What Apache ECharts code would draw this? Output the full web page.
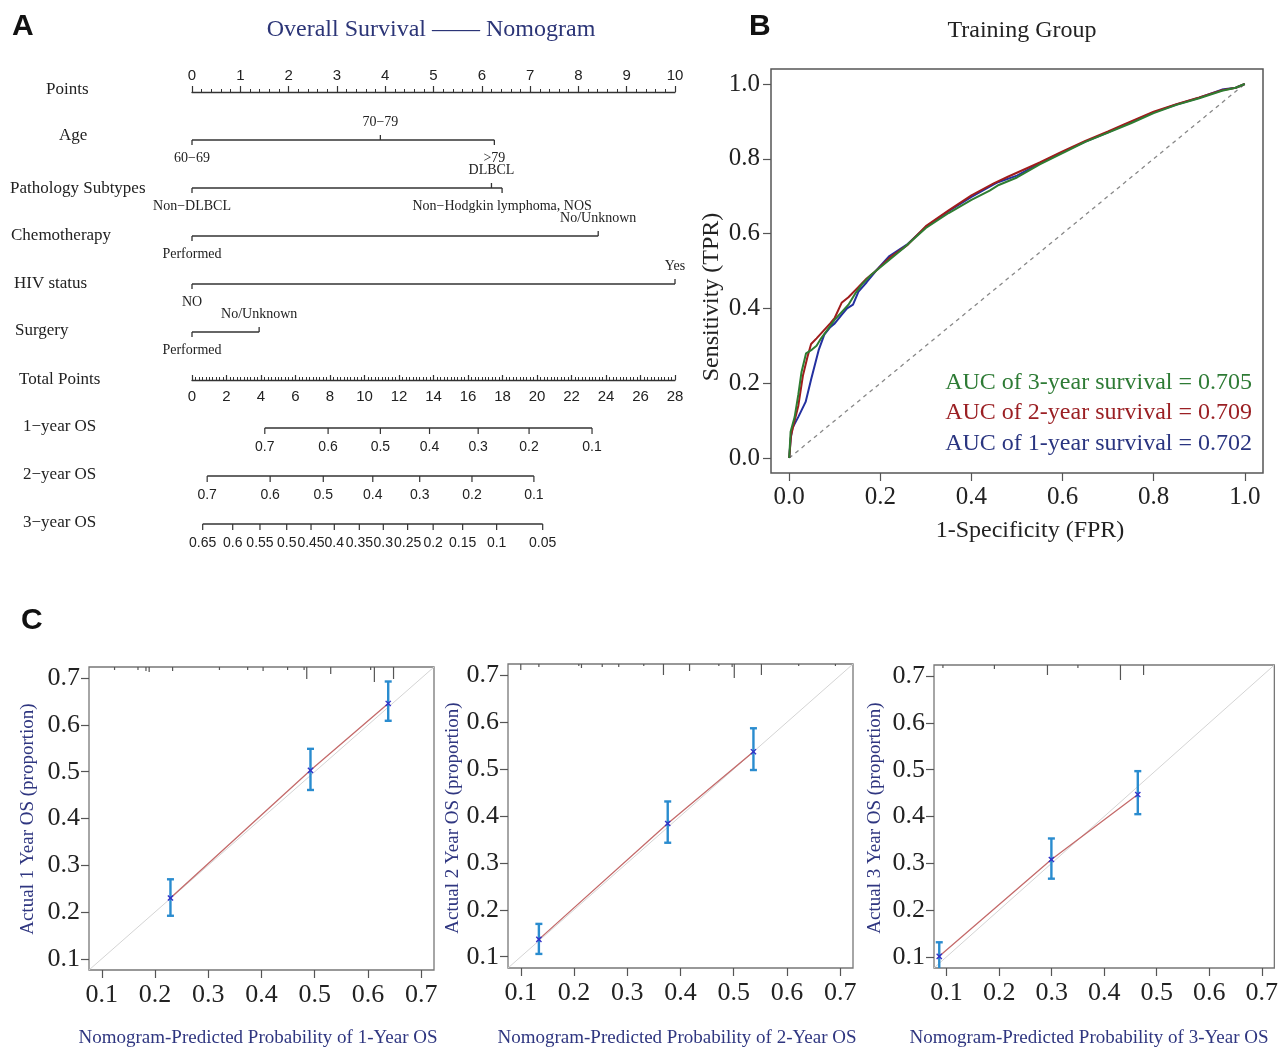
<!DOCTYPE html>
<html><head><meta charset="utf-8">
<script src="https://cdn.jsdelivr.net/npm/echarts@6/dist/echarts.min.js"></script>
<style>html,body{margin:0;padding:0;background:#fff}#c{width:1281px;height:1049px}</style>
</head><body><div id="c"></div>
<script>
// ================= DATA =================
// Nomogram rows
const nomoRows = ['Points','Age','Pathology Subtypes','Chemotherapy','HIV status','Surgery','Total Points','1−year OS','2−year OS','3−year OS'];
const ageLevels = ['60−69','70−79','>79'];
const agePoints = [0, 3.9, 6.26];
const pathLevels = ['Non−DLBCL','DLBCL','Non−Hodgkin lymphoma, NOS'];
const pathPoints = [0, 6.2, 6.42];
const chemoLevels = ['Performed','No/Unknown'];
const chemoPoints = [0, 8.41];
const hivLevels = ['NO','Yes'];
const hivPoints = [0, 10];
const surgeryLevels = ['Performed','No/Unknown'];
const surgeryPoints = [0, 1.39];
const os1Labels = ['0.7','0.6','0.5','0.4','0.3','0.2','0.1'];
const os1Total = [4.22, 7.89, 10.92, 13.77, 16.59, 19.54, 23.19];
const os2Labels = ['0.7','0.6','0.5','0.4','0.3','0.2','0.1'];
const os2Total = [0.88, 4.53, 7.61, 10.48, 13.2, 16.23, 19.82];
const os3Labels = ['0.65','0.6','0.55','0.5','0.45','0.4','0.35','0.3','0.25','0.2','0.15','0.1','0.05'];
const os3Total = [0.62, 2.36, 3.94, 5.49, 6.90, 8.25, 9.70, 11.09, 12.50, 13.98, 15.69, 17.66, 20.33];

// ROC curves [FPR, TPR]
const roc3yr = [[0,0],[0.003,0.07],[0.012,0.11],[0.02,0.17],[0.027,0.23],[0.037,0.28],[0.05,0.29],[0.06,0.30],[0.07,0.32],[0.085,0.345],[0.1,0.37],[0.115,0.39],[0.13,0.41],[0.145,0.44],[0.16,0.465],[0.18,0.49],[0.2,0.51],[0.22,0.53],[0.25,0.56],[0.3,0.615],[0.35,0.655],[0.4,0.69],[0.44,0.715],[0.46,0.73],[0.5,0.75],[0.55,0.785],[0.6,0.815],[0.65,0.845],[0.7,0.87],[0.75,0.895],[0.8,0.922],[0.85,0.944],[0.9,0.962],[0.95,0.982],[0.98,0.99],[1,1]];
const roc2yr = [[0,0],[0.004,0.06],[0.012,0.10],[0.02,0.14],[0.03,0.22],[0.04,0.27],[0.048,0.305],[0.06,0.32],[0.075,0.34],[0.09,0.36],[0.1,0.375],[0.115,0.415],[0.13,0.43],[0.15,0.455],[0.17,0.48],[0.19,0.5],[0.22,0.535],[0.26,0.57],[0.3,0.62],[0.35,0.662],[0.4,0.702],[0.45,0.735],[0.48,0.752],[0.55,0.79],[0.6,0.82],[0.65,0.848],[0.7,0.873],[0.735,0.892],[0.8,0.926],[0.85,0.946],[0.9,0.964],[0.95,0.983],[0.98,0.99],[1,1]];
const roc1yr = [[0,0],[0.003,0.05],[0.007,0.08],[0.02,0.11],[0.036,0.15],[0.048,0.21],[0.065,0.29],[0.077,0.33],[0.09,0.35],[0.1,0.36],[0.115,0.383],[0.127,0.4],[0.14,0.41],[0.152,0.445],[0.17,0.47],[0.19,0.5],[0.22,0.54],[0.26,0.572],[0.3,0.618],[0.35,0.66],[0.4,0.698],[0.45,0.732],[0.46,0.738],[0.5,0.755],[0.55,0.788],[0.6,0.818],[0.65,0.846],[0.7,0.871],[0.75,0.898],[0.8,0.924],[0.85,0.945],[0.9,0.963],[0.95,0.985],[0.98,0.99],[1,1]];
const aucLabels = ['AUC of 3-year survival = 0.705','AUC of 2-year survival = 0.709','AUC of 1-year survival = 0.702'];

// Calibration: predicted, observed, CI low, CI high, rug positions & counts
const cal1Pred = [0.229, 0.492, 0.638];
const cal1Obs  = [0.230, 0.503, 0.646];
const cal1Lo   = [0.192, 0.461, 0.609];
const cal1Hi   = [0.270, 0.549, 0.693];
const cal1RugX = [0.124,0.168,0.183,0.189,0.233,0.321,0.374,0.403,0.449,0.480,0.485,0.530,0.605,0.612,0.648];
const cal1RugN = [3,3,4,5,4,3,3,4,3,3,12,7,3,15,12];
const cal2Pred = [0.134, 0.376, 0.537];
const cal2Obs  = [0.137, 0.384, 0.537];
const cal2Lo   = [0.106, 0.343, 0.498];
const cal2Hi   = [0.170, 0.431, 0.587];
const cal2RugX = [0.100,0.134,0.209,0.214,0.253,0.284,0.331,0.368,0.417,0.472,0.497,0.501,0.552,0.622,0.691];
const cal2RugN = [6,3,2,4,3,3,2,11,7,2,3,14,11,2,2];
const cal3Pred = [0.086, 0.2995, 0.464];
const cal3Obs  = [0.101, 0.308, 0.447];
const cal3Lo   = [0.07, 0.267, 0.405];
const cal3Hi   = [0.131, 0.353, 0.497];
const cal3RugX = [0.093,0.191,0.292,0.350,0.431,0.475];
const cal3RugN = [3,4,10,3,15,10];
const calTicks = [0.1,0.2,0.3,0.4,0.5,0.6,0.7];
const rocTicks = [0,0.2,0.4,0.6,0.8,1.0];

// ================= LAYOUT / STYLE =================
const SERIF = "'Liberation Serif','Times New Roman',serif";
const SANS = "'Liberation Sans',Arial,sans-serif";
const NAVY = '#2f3680';
const CAL_MIN = 0.076, CAL_MAX = 0.724;
const catRows = [
  {row:1, levels:ageLevels, pts:agePoints, sides:['b','a','b']},
  {row:2, levels:pathLevels, pts:pathPoints, sides:['b','a','b']},
  {row:3, levels:chemoLevels, pts:chemoPoints, sides:['b','a']},
  {row:4, levels:hivLevels, pts:hivPoints, sides:['b','a']},
  {row:5, levels:surgeryLevels, pts:surgeryPoints, sides:['b','a']}
];
const osRows = [
  {row:7, labels:os1Labels, tot:os1Total},
  {row:8, labels:os2Labels, tot:os2Total},
  {row:9, labels:os3Labels, tot:os3Total}
];

function catRender(params, api) {
  const r = catRows[params.dataIndex];
  const yi = api.value(1);
  const max = Math.max.apply(null, r.pts);
  const a = api.coord([0, yi]), b = api.coord([max, yi]);
  const ch = [{type:'line', shape:{x1:a[0], y1:a[1], x2:b[0], y2:b[1]}, style:{stroke:'#333', lineWidth:1.5}}];
  r.levels.forEach((lv, i) => {
    const p = api.coord([r.pts[i], yi]);
    const d = r.sides[i] === 'a' ? -1 : 1;
    ch.push({type:'line', shape:{x1:p[0], y1:p[1], x2:p[0], y2:p[1] + d*5}, style:{stroke:'#333', lineWidth:1.3}});
    ch.push({type:'text', x:p[0], y:p[1] + d*18, style:{text:lv, fontSize:14, fontFamily:SERIF, fill:'#222', align:'center', verticalAlign:'middle'}});
  });
  return {type:'group', children:ch};
}
function osRender(params, api) {
  const r = osRows[params.dataIndex];
  const yi = api.value(1);
  const a = api.coord([r.tot[0], yi]), b = api.coord([r.tot[r.tot.length-1], yi]);
  const ch = [{type:'line', shape:{x1:a[0], y1:a[1], x2:b[0], y2:b[1]}, style:{stroke:'#333', lineWidth:1.3}}];
  r.tot.forEach((t, i) => {
    const p = api.coord([t, yi]);
    ch.push({type:'line', shape:{x1:p[0], y1:p[1], x2:p[0], y2:p[1] + 6}, style:{stroke:'#333', lineWidth:1.2}});
    ch.push({type:'text', x:p[0], y:p[1] + 19, style:{text:r.labels[i], fontSize:14, fontFamily:SANS, fill:'#222', align:'center', verticalAlign:'middle'}});
  });
  return {type:'group', children:ch};
}

function calAxes(g) {
  const mk = (margin) => ({gridIndex:g, type:'value', min:CAL_MIN, max:CAL_MAX,
    axisLine:{show:false, onZero:false}, splitLine:{show:false},
    axisTick:{show:true, customValues:calTicks, length:8, lineStyle:{color:'#555', width:1.2}},
    axisLabel:{customValues:calTicks, formatter:v => v.toFixed(1), fontSize:26, fontFamily:SERIF, color:'#222', margin:margin}});
  return [mk(12), mk(9)];
}
function calSeries(ax, pred, obs, lo, hi, rugX, rugN) {
  const pts = pred.map((p, i) => [p, obs[i], lo[i], hi[i]]);
  const ay = ax - 1;
  return [
    {type:'line', xAxisIndex:ax, yAxisIndex:ay, data:[[CAL_MIN, CAL_MIN],[CAL_MAX, CAL_MAX]], showSymbol:false, silent:true,
     lineStyle:{color:'#d4d4d4', width:1}, z:2},
    {type:'line', xAxisIndex:ax, yAxisIndex:ay, data:pred.map((p, i) => [p, obs[i]]), showSymbol:false, silent:true,
     lineStyle:{color:'#c46a6a', width:1.3}, z:3},
    {type:'custom', xAxisIndex:ax, yAxisIndex:ay, data:pts, clip:true, z:4,
     renderItem:(params, api) => {
       const c = api.coord([api.value(0), api.value(1)]);
       const l = api.coord([api.value(0), api.value(2)]);
       const h = api.coord([api.value(0), api.value(3)]);
       const st = {stroke:'#2a8ccf', lineWidth:2.4};
       const mk = {stroke:'#3232c8', lineWidth:1.4};
       return {type:'group', children:[
         {type:'line', shape:{x1:l[0], y1:l[1], x2:h[0], y2:h[1]}, style:st},
         {type:'line', shape:{x1:l[0]-3.5, y1:l[1], x2:l[0]+3.5, y2:l[1]}, style:st},
         {type:'line', shape:{x1:h[0]-3.5, y1:h[1], x2:h[0]+3.5, y2:h[1]}, style:st},
         {type:'line', shape:{x1:c[0]-2.6, y1:c[1]-2.6, x2:c[0]+2.6, y2:c[1]+2.6}, style:mk},
         {type:'line', shape:{x1:c[0]-2.6, y1:c[1]+2.6, x2:c[0]+2.6, y2:c[1]-2.6}, style:mk}
       ]};
     }},
    {type:'custom', xAxisIndex:ax, yAxisIndex:ay, data:rugX.map((x, i) => [x, rugN[i]]), clip:false, z:5,
     renderItem:(params, api) => {
       const t = api.coord([api.value(0), CAL_MAX]);
       return {type:'line', shape:{x1:t[0], y1:t[1], x2:t[0], y2:t[1] + api.value(1)}, style:{stroke:'#555', lineWidth:1.2}};
     }}
  ];
}

function txt(text, x, y, o) {
  o = o || {};
  return {type:'text', x:x, y:y, rotation:o.rot || 0, silent:true,
    style:{text:text, fontSize:o.size || 16, fontFamily:o.family || SERIF, fontWeight:o.weight || 'normal',
      fill:o.color || '#222', align:o.align || 'left', verticalAlign:'middle'}};
}

const rowLabelPos = [[46,90],[59,136],[10,189],[11,236],[14,284],[15,331],[19,380],[23,427],[23,475],[23,523]];

const graphics = [
  txt('A', 12, 27, {size:30, family:SANS, weight:'bold', color:'#111'}),
  txt('B', 749, 27, {size:30, family:SANS, weight:'bold', color:'#111'}),
  txt('C', 21, 621, {size:30, family:SANS, weight:'bold', color:'#111'}),
  txt('Overall Survival —— Nomogram', 431, 30, {size:24, color:'#2c3577', align:'center'}),
  txt('Training Group', 1022, 31, {size:24, color:'#222', align:'center'}),
  txt('Sensitivity (TPR)', 712, 297, {size:24, rot:Math.PI/2, align:'center'}),
  txt('1-Specificity (FPR)', 1030, 531, {size:24, align:'center'}),
  txt(aucLabels[0], 1252, 383, {size:24, color:'#2e7b35', align:'right'}),
  txt(aucLabels[1], 1252, 413, {size:24, color:'#9b2024', align:'right'}),
  txt(aucLabels[2], 1252, 444, {size:24, color:'#2a3580', align:'right'}),
  txt('Actual 1 Year OS (proportion)', 28, 819, {size:19, color:NAVY, rot:Math.PI/2, align:'center'}),
  txt('Actual 2 Year OS (proportion)', 453, 818, {size:19, color:NAVY, rot:Math.PI/2, align:'center'}),
  txt('Actual 3 Year OS (proportion)', 875, 818, {size:19, color:NAVY, rot:Math.PI/2, align:'center'}),
  txt('Nomogram-Predicted Probability of 1-Year OS', 258, 1038, {size:19, color:NAVY, align:'center'}),
  txt('Nomogram-Predicted Probability of 2-Year OS', 677, 1038, {size:19, color:NAVY, align:'center'}),
  txt('Nomogram-Predicted Probability of 3-Year OS', 1089, 1038, {size:19, color:NAVY, align:'center'})
];
nomoRows.forEach((r, i) => graphics.push(txt(r, rowLabelPos[i][0], rowLabelPos[i][1], {size:17})));

const [c1x, c1y] = calAxes(3), [c2x, c2y] = calAxes(4), [c3x, c3y] = calAxes(5);

const rocAxis = (g, isX) => ({gridIndex:g, type:'value', min:-0.04, max:1.04,
  axisLine:{show:false, onZero:false}, splitLine:{show:false},
  axisTick:{show:true, customValues:rocTicks, length:8, lineStyle:{color:'#555', width:1.2}},
  axisLabel:{customValues:rocTicks, formatter:v => v.toFixed(1), fontSize:25, fontFamily:SERIF, color:'#222', margin: isX ? 12 : 11}});

const option = {
  animation:false,
  backgroundColor:'#fff',
  graphic:graphics,
  grid:[
    {left:192, width:483, top:92, height:432, show:false},
    {left:192, width:483, top:379, height:1, show:false},
    {left:771, width:492, top:69, height:404, show:true, borderColor:'#555', borderWidth:1.5},
    {left:89, width:345, top:667, height:303, show:true, borderColor:'#777', borderWidth:1.3},
    {left:508, width:345, top:664, height:304, show:true, borderColor:'#777', borderWidth:1.3},
    {left:934, width:345, top:665, height:303, show:true, borderColor:'#777', borderWidth:1.3}
  ],
  xAxis:[
    {gridIndex:0, type:'value', position:'top', min:0, max:10, interval:1,
     axisLine:{show:true, onZero:false, lineStyle:{color:'#333', width:1.3}},
     axisTick:{show:true, length:6, lineStyle:{color:'#333', width:1.2}},
     minorTick:{show:true, splitNumber:5, length:3, lineStyle:{color:'#333', width:1}},
     axisLabel:{fontSize:15, fontFamily:SANS, color:'#222', margin:9},
     splitLine:{show:false}},
    {gridIndex:0, type:'value', min:0, max:28, show:false},
    {gridIndex:1, type:'value', position:'bottom', min:0, max:28, interval:2,
     axisLine:{show:true, onZero:false, lineStyle:{color:'#333', width:1.3}},
     axisTick:{show:true, inside:true, length:5, lineStyle:{color:'#333', width:1.2}},
     minorTick:{show:true, splitNumber:10, length:3, lineStyle:{color:'#333', width:1}},
     axisLabel:{fontSize:15, fontFamily:SANS, color:'#222', margin:9},
     splitLine:{show:false}},
    rocAxis(2, true),
    c1x, c2x, c3x
  ],
  yAxis:[
    {gridIndex:0, type:'category', data:nomoRows, inverse:true, boundaryGap:false, show:false},
    {gridIndex:1, type:'value', min:0, max:1, show:false},
    rocAxis(2, false),
    c1y, c2y, c3y
  ],
  series:[
    {type:'custom', xAxisIndex:0, yAxisIndex:0, clip:false, data:catRows.map(r => [0, r.row]), renderItem:catRender},
    {type:'custom', xAxisIndex:1, yAxisIndex:0, clip:false, data:osRows.map(r => [0, r.row]), renderItem:osRender},
    {type:'line', xAxisIndex:2, yAxisIndex:1, data:[[0,0]], showSymbol:false, lineStyle:{opacity:0}},
    {type:'line', xAxisIndex:3, yAxisIndex:2, data:[[0,0],[1,1]], showSymbol:false, silent:true,
     lineStyle:{color:'#888', width:1.3, type:[4,4]}},
    {type:'line', xAxisIndex:3, yAxisIndex:2, data:roc1yr, showSymbol:false, silent:true, lineStyle:{color:'#2330a0', width:2}},
    {type:'line', xAxisIndex:3, yAxisIndex:2, data:roc2yr, showSymbol:false, silent:true, lineStyle:{color:'#a01c1c', width:2}},
    {type:'line', xAxisIndex:3, yAxisIndex:2, data:roc3yr, showSymbol:false, silent:true, lineStyle:{color:'#2e7d32', width:2}},
    ...calSeries(4, cal1Pred, cal1Obs, cal1Lo, cal1Hi, cal1RugX, cal1RugN),
    ...calSeries(5, cal2Pred, cal2Obs, cal2Lo, cal2Hi, cal2RugX, cal2RugN),
    ...calSeries(6, cal3Pred, cal3Obs, cal3Lo, cal3Hi, cal3RugX, cal3RugN)
  ]
};

const chart = echarts.init(document.getElementById('c'), null, {renderer:'canvas', width:1281, height:1049});
chart.setOption(option);
</script>
</body></html>
